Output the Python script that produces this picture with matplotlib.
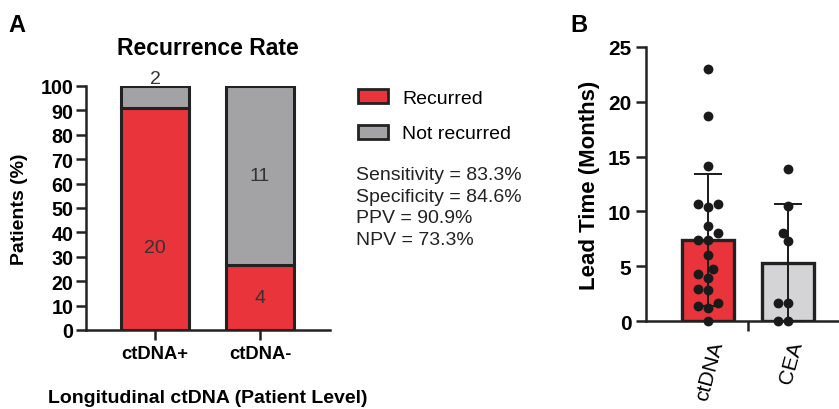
import numpy as np
import matplotlib
matplotlib.use("Agg")
import matplotlib.pyplot as plt
from matplotlib.patches import Patch

plt.rcParams['font.family'] = ['Liberation Sans', 'DejaVu Sans']

# Panel A data
groups_a = ['ctDNA+', 'ctDNA-']
recurred_n = [20, 4]
not_recurred_n = [2, 11]
stats_lines = ['Sensitivity = 83.3%', 'Specificity = 84.6%', 'PPV = 90.9%', 'NPV = 73.3%']

# Panel B data
groups_b = ['ctDNA', 'CEA']
lead_ctdna = [23.0, 18.7, 14.1, 10.7, 10.4, 10.7, 8.7, 8.0, 7.4, 7.4,
              6.0, 4.7, 4.3, 3.9, 2.9, 2.8, 1.6, 1.2, 1.4, 0.0]
lead_cea = [13.9, 10.5, 8.0, 7.3, 1.6, 1.6, 0.0, 0.0]
bar_mean_b = [7.4, 5.3]
bar_sd_b = [6.0, 5.4]

RED = '#e8343a'
GRAY = '#a3a3a6'
LIGHT = '#d4d4d6'
EDGE = '#222222'

fig = plt.figure(figsize=(8.39, 4.10), dpi=100)


def swarm_offsets(vals, y_px_per_unit, x_px_per_unit, diam_px):
    """simple greedy beeswarm, returns x offsets in data units"""
    placed = []
    offs = np.zeros(len(vals))
    order = np.argsort(vals)
    step = diam_px * 0.55
    cands = [0]
    for k in range(1, 8):
        cands += [-k * step, k * step]
    for i in order:
        y = vals[i] * y_px_per_unit
        for c in cands:
            ok = all((c - px) ** 2 + (y - py) ** 2 >= diam_px ** 2 * 0.95 for px, py in placed)
            if ok:
                placed.append((c, y))
                offs[i] = c / x_px_per_unit
                break
    return offs


# ---------------- Panel A ----------------
axA = fig.add_axes([86 / 839, 1 - 331 / 410, 244 / 839, 244 / 410])
x_a = np.arange(len(groups_a))
totals = np.array(recurred_n) + np.array(not_recurred_n)
rec_pct = np.array(recurred_n) / totals * 100
not_pct = np.array(not_recurred_n) / totals * 100

axA.bar(x_a, rec_pct, width=0.65, color=RED, edgecolor=EDGE, linewidth=2.2, zorder=2)
axA.bar(x_a, not_pct, bottom=rec_pct, width=0.65, color=GRAY, edgecolor=EDGE, linewidth=2.2, zorder=2)

# count labels (y positions as drawn in the figure)
label_y_rec = [34, rec_pct[1] / 2]
label_y_not = [103, rec_pct[1] + not_pct[1] / 2]
for i in range(len(groups_a)):
    axA.text(x_a[i], label_y_rec[i], str(recurred_n[i]), ha='center', va='center',
             fontsize=14, color='#333333', zorder=3)
    axA.text(x_a[i], label_y_not[i], str(not_recurred_n[i]), ha='center', va='center',
             fontsize=14, color='#333333', zorder=3, clip_on=False)

axA.set_xlim(-0.657, 1.667)
axA.set_ylim(0, 100)
axA.set_yticks(np.arange(0, 101, 10))
axA.set_xticks(x_a)
axA.set_xticklabels(groups_a, fontweight='bold', fontsize=13.2)
for lab in axA.get_yticklabels():
    lab.set_fontweight('bold')
    lab.set_fontsize(14.2)
axA.tick_params(axis='both', direction='out', length=7, width=1.8, color=EDGE, pad=2)
axA.tick_params(axis='x', pad=4)
for s in ['top', 'right']:
    axA.spines[s].set_visible(False)
for s in ['left', 'bottom']:
    axA.spines[s].set_linewidth(1.8)
    axA.spines[s].set_color(EDGE)
axA.set_ylabel('Patients (%)', fontweight='bold', fontsize=14, labelpad=9)
axA.set_xlabel('Longitudinal ctDNA (Patient Level)', fontweight='bold', fontsize=14, labelpad=19)
axA.set_title('Recurrence Rate', fontweight='bold', fontsize=16.5, pad=23)

handles = [Patch(facecolor=RED, edgecolor=EDGE, linewidth=2, label='Recurred'),
           Patch(facecolor=GRAY, edgecolor=EDGE, linewidth=2, label='Not recurred')]
fig.legend(handles=handles, loc='upper left', bbox_to_anchor=(350 / 839, 1 - 82 / 410),
           frameon=False, fontsize=14, handlelength=1.55, handleheight=0.75,
           labelspacing=0.92, handletextpad=0.75, borderaxespad=0)
fig.text(356 / 839, 1 - 167 / 410, '\n'.join(stats_lines), ha='left', va='top',
         fontsize=14, linespacing=1.36, color='#222222')

# ---------------- Panel B ----------------
axB = fig.add_axes([646 / 839, 1 - 322 / 410, 193 / 839, 274 / 410])
x_b = np.arange(len(groups_b))
axB.bar(x_b, bar_mean_b, width=0.65, color=[RED, LIGHT], edgecolor=EDGE, linewidth=2.4, zorder=2)
axB.errorbar(x_b, bar_mean_b, yerr=bar_sd_b, fmt='none', ecolor='#1a1a1a',
             elinewidth=1.4, capsize=10, capthick=1.4, zorder=3, clip_on=True)

y_px = 274 / 25
x_px = 80
for xi, vals in zip(x_b, [lead_ctdna, lead_cea]):
    vals = np.array(vals)
    offs = swarm_offsets(vals, y_px, x_px, 9.5)
    axB.scatter(xi + offs, vals, s=50, color='#1a1a1a', zorder=4, clip_on=False, linewidths=0)

axB.set_xlim(-0.775, 1.6375)
axB.set_ylim(0, 25)
axB.set_yticks([0, 5, 10, 15, 20, 25])
for lab in axB.get_yticklabels():
    lab.set_fontweight('bold')
    lab.set_fontsize(15)
axB.set_xticks([0.5])
axB.set_xticklabels([''])
axB.set_xticks(x_b, minor=True)
axB.set_xticklabels(groups_b, minor=True, rotation=75, ha='right', va='top',
                    rotation_mode='anchor', fontsize=15)
axB.tick_params(axis='x', which='minor', length=0, pad=13)
axB.tick_params(axis='both', which='major', direction='out', length=7, width=1.8, color=EDGE)
for s in ['top', 'right']:
    axB.spines[s].set_visible(False)
for s in ['left', 'bottom']:
    axB.spines[s].set_linewidth(1.8)
    axB.spines[s].set_color(EDGE)
axB.set_ylabel('Lead Time (Months)', fontweight='bold', fontsize=16, labelpad=6)

fig.text(8 / 839, 1 - 25 / 410, 'A', fontsize=17, fontweight='bold', va='center', ha='left')
fig.text(570 / 839, 1 - 25 / 410, 'B', fontsize=17, fontweight='bold', va='center', ha='left')

fig.savefig('out.png', dpi=100)
